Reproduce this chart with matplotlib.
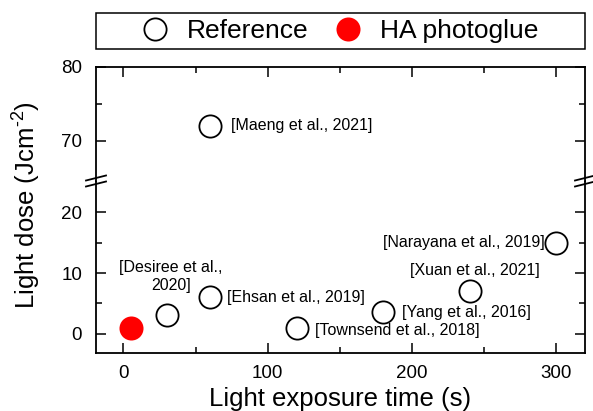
import matplotlib.pyplot as plt
from matplotlib.lines import Line2D
from matplotlib.patches import Rectangle

plt.rcParams['font.family'] = ['Liberation Sans', 'DejaVu Sans']
plt.rcParams['mathtext.fontset'] = 'custom'
plt.rcParams['mathtext.rm'] = 'Liberation Sans'
plt.rcParams['mathtext.default'] = 'regular'

# data
ref_time = [30, 60, 60, 120, 180, 240, 300]
ref_dose = [3, 6, 72, 1, 3.5, 7, 15]
ref_labels = ['[Desiree et al.,\n2020]', '[Ehsan et al., 2019]', '[Maeng et al., 2021]',
              '[Townsend et al., 2018]', '[Yang et al., 2016]', '[Xuan et al., 2021]',
              '[Narayana et al., 2019]']
ha_time = [5]
ha_dose = [1]

# label placement (offset in points, alignment)
lab_pos = [((3, 28), 'center'), ((12.5, 0), 'left'), ((15, 0), 'left'),
           ((13, -2), 'left'), ((14, 0), 'left'), ((3.6, 15), 'center'),
           ((-8.5, 0), 'right')]

W, H = 593, 411
fig = plt.figure(figsize=(W / 100, H / 100), dpi=100)

x0, x1 = 96, 585
ytop, ybrk, ybot = 66.5, 181, 353
ax_lo = fig.add_axes([x0 / W, 1 - ybot / H, (x1 - x0) / W, (ybot - ybrk) / H])
ax_hi = fig.add_axes([x0 / W, 1 - ybrk / H, (x1 - x0) / W, (ybrk - ytop) / H], sharex=ax_lo)

for ax in (ax_lo, ax_hi):
    ax.plot(ref_time, ref_dose, 'o', ms=16, mfc='white', mec='black', mew=1.3,
            label='Reference', zorder=3)
    ax.plot(ha_time, ha_dose, 'o', ms=16, mfc='red', mec='red', mew=1.3,
            label='HA photoglue', zorder=3)
    for t, d, lab, (off, ha) in zip(ref_time, ref_dose, ref_labels, lab_pos):
        ax.annotate(lab, (t, d), xytext=off, textcoords='offset points',
                    ha=ha, va='center', fontsize=11.5, multialignment='center')
    for s in ax.spines.values():
        s.set_linewidth(1.3)
    ax.tick_params(which='both', direction='in', top=True, right=True,
                   labelsize=13.5, width=1.1)
    ax.tick_params(which='major', length=7.5)
    ax.tick_params(which='minor', length=4)
    ax.tick_params(axis='y', pad=10)
    ax.tick_params(axis='x', pad=9)

ax_lo.set_xlim(-19, 320)
ax_lo.set_xticks([0, 100, 200, 300])
ax_lo.set_xticks([50, 150, 250], minor=True)
ax_lo.set_ylim(-3.2, 25.2)
ax_lo.set_yticks([0, 10, 20])
ax_lo.set_yticks([5, 15], minor=True)
ax_hi.set_ylim(64.6, 80)
ax_hi.set_yticks([70, 80])
ax_hi.set_yticks([75], minor=True)

ax_lo.spines['top'].set_visible(False)
ax_hi.spines['bottom'].set_visible(False)
ax_lo.tick_params(which='both', top=False)
ax_hi.tick_params(which='both', bottom=False, labelbottom=False)

ax_lo.set_xlabel('Light exposure time (s)', fontsize=18.5, labelpad=3)
fig.text(27 / W, 1 - 205 / H, r'Light dose (Jcm$^{\text{-2}}$)', rotation=90,
         ha='center', va='center', fontsize=18.5)

# break marks
for xb in (x0, x1):
    for dy in (-3, 3):
        fig.lines.append(Line2D([(xb - 10) / W, (xb + 10) / W],
                                [1 - (ybrk + dy + 2.5) / H, 1 - (ybrk + dy - 2.5) / H],
                                transform=fig.transFigure, color='black', lw=1.3))

# legend
fig.patches.append(Rectangle((x0 / W, 1 - 49 / H), (x1 - x0) / W, 36 / H,
                             transform=fig.transFigure, fill=False, ec='black', lw=1.1))
fig.legend(*ax_lo.get_legend_handles_labels(), loc='center', ncol=2,
           bbox_to_anchor=(340 / W, 1 - 31 / H), frameon=False, fontsize=19,
           handlelength=1.0, handletextpad=0.7, columnspacing=1.0, borderpad=0)

plt.savefig('out.png', dpi=100)
